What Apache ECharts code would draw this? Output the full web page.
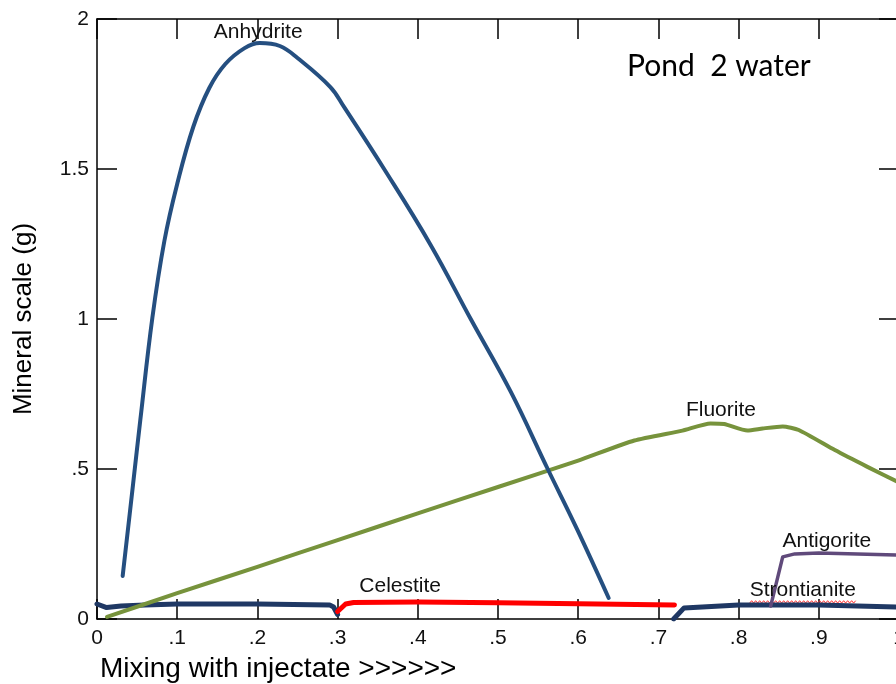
<!DOCTYPE html>
<html>
<head>
<meta charset="utf-8">
<script src="https://cdn.jsdelivr.net/npm/echarts@6/dist/echarts.min.js"></script>
<style>
  html, body { margin: 0; padding: 0; background: #fff; }
  #chart { width: 896px; height: 684px; }
</style>
</head>
<body>
<div id="chart"></div>
<script>
// Mixing fraction (x) vs. precipitated mass in grams (y)
const anhydrite = [
  [0.032, 0.143], [0.045, 0.45], [0.054, 0.663], [0.069, 1.003], [0.084, 1.26],
  [0.1, 1.45], [0.12, 1.64], [0.14, 1.77], [0.16, 1.85], [0.184, 1.903],
  [0.203, 1.92], [0.228, 1.91], [0.25, 1.87], [0.291, 1.773], [0.308, 1.707],
  [0.358, 1.5], [0.416, 1.247], [0.466, 1.0], [0.516, 0.757], [0.562, 0.5],
  [0.599, 0.297], [0.638, 0.07]
];
const fluorite = [
  [0.0125, 0.007], [0.1, 0.086], [0.2, 0.174], [0.3, 0.263], [0.4, 0.352],
  [0.5, 0.44], [0.6, 0.528], [0.67, 0.595], [0.73, 0.628], [0.765, 0.652],
  [0.782, 0.65], [0.811, 0.628], [0.83, 0.635], [0.855, 0.642], [0.875, 0.63],
  [0.92, 0.563], [0.96, 0.508], [1.0, 0.455]
];
const celestite = [
  [0.3, 0.025], [0.31, 0.05], [0.32, 0.055], [0.4, 0.057], [0.5, 0.054],
  [0.6, 0.051], [0.72, 0.047]
];
const strontianite = [
  [0.0, 0.05], [0.012, 0.038], [0.03, 0.043], [0.06, 0.047], [0.1, 0.05],
  [0.2, 0.05], [0.29, 0.047], [0.295, 0.04], [0.3, 0.015],
  [null, null],
  [0.719, 0.0], [0.732, 0.037], [0.8, 0.047], [0.9, 0.047], [1.0, 0.04]
];
const antigorite = [
  [0.84, 0.043], [0.855, 0.207], [0.87, 0.217], [0.9, 0.22], [1.0, 0.213]
];
const xTickLabels = ['0', '.1', '.2', '.3', '.4', '.5', '.6', '.7', '.8', '.9', '1'];
const yTickLabels = ['0', '.5', '1', '1.5', '2'];

const FONT = 'Liberation Sans, Arial, sans-serif';
const chart = echarts.init(document.getElementById('chart'), null, { renderer: 'canvas' });

function tagLabel(name, coord) {
  return {
    symbol: 'circle', symbolSize: 0, silent: true, animation: false,
    label: { show: true, position: 'inside', formatter: name, color: '#111',
             fontFamily: FONT, fontSize: 21 },
    data: [{ coord: coord }]
  };
}

function lineSeries(name, data, color, width, z, smooth, tag) {
  return {
    name: name, type: 'line', data: data, z: z,
    showSymbol: false, symbol: 'none', smooth: smooth, connectNulls: false,
    lineStyle: { color: color, width: width, cap: 'round', join: 'round' },
    markPoint: tag
  };
}

// frame: four spines, each with inward ticks
const axisLine = { show: true, onZero: false, lineStyle: { color: '#000', width: 1.5 } };
const tick = { show: true, inside: true, length: 20, lineStyle: { color: '#000', width: 1.5 } };
const xTitle = {
  type: 'text', left: 100, top: 655,
  style: { text: 'Mixing with injectate >>>>>>', font: '28px ' + FONT, fill: '#000' }
};

chart.setOption({
  animation: false,
  backgroundColor: '#fff',
  title: {
    text: 'Pond  2 water', left: 622, top: 46,
    textStyle: { fontFamily: 'Lato, Noto Sans, sans-serif', fontWeight: 'normal', fontSize: 30, color: '#000' }
  },
  grid: { left: 97, top: 19, right: -3, bottom: 65, containLabel: false, outerBoundsMode: 'none' },
  xAxis: [{
    type: 'value', min: 0, max: 1, interval: 0.1, position: 'bottom',
    axisLine: axisLine, axisTick: tick, splitLine: { show: false },
    axisLabel: {
      margin: 9, color: '#111', fontFamily: FONT, fontSize: 21,
      formatter: (v) => xTickLabels[Math.round(v * 10)]
    }
  }, {
    type: 'value', min: 0, max: 1, interval: 0.1, position: 'top',
    axisLine: axisLine, axisTick: tick, splitLine: { show: false },
    axisLabel: { show: false }
  }],
  yAxis: [{
    type: 'value', min: 0, max: 2, interval: 0.5, position: 'left',
    name: 'Mineral scale (g)', nameLocation: 'middle', nameGap: 60,
    nameTextStyle: { fontFamily: FONT, fontSize: 26, color: '#000' },
    axisLine: axisLine, axisTick: tick, splitLine: { show: false },
    axisLabel: {
      margin: 8, color: '#111', fontFamily: FONT, fontSize: 21,
      formatter: (v) => yTickLabels[Math.round(v * 2)]
    }
  }, {
    type: 'value', min: 0, max: 2, interval: 0.5, position: 'right',
    axisLine: axisLine, axisTick: tick, splitLine: { show: false },
    axisLabel: { show: false }
  }],
  graphic: [xTitle],
  series: [
    lineSeries('Strontianite', strontianite, '#1f3864', 5, 2, false,
      tagLabel('Strontianite', [0.88, 0.097])),
    lineSeries('Celestite', celestite, '#ff0000', 5, 3, false,
      tagLabel('Celestite', [0.378, 0.11])),
    lineSeries('Antigorite', antigorite, '#604a7b', 3.5, 4, false,
      tagLabel('Antigorite', [0.91, 0.26])),
    lineSeries('Fluorite', fluorite, '#77933c', 4, 5, 0.2,
      tagLabel('Fluorite', [0.778, 0.697])),
    lineSeries('Anhydrite', anhydrite, '#254f80', 4, 6, 0.4,
      tagLabel('Anhydrite', [0.201, 1.957]))
  ]
});

// red wavy underline beneath the Strontianite label
(function () {
  const ctx = document.createElement('canvas').getContext('2d');
  ctx.font = '21px ' + FONT;
  const w = ctx.measureText('Strontianite').width;
  const c = chart.convertToPixel({ gridIndex: 0 }, [0.88, 0.097]);
  const x0 = c[0] - w / 2, y0 = c[1] + 12;
  const pts = [];
  for (let i = 0; x0 + i * 2 <= x0 + w; i++) pts.push([x0 + i * 2, y0 + (i % 2 ? -1.2 : 1.2)]);
  chart.setOption({
    graphic: [xTitle, {
      type: 'polyline', z: 1, silent: true,
      shape: { points: pts },
      style: { stroke: '#ff3030', lineWidth: 1, fill: null }
    }]
  });
})();
</script>
</body>
</html>
